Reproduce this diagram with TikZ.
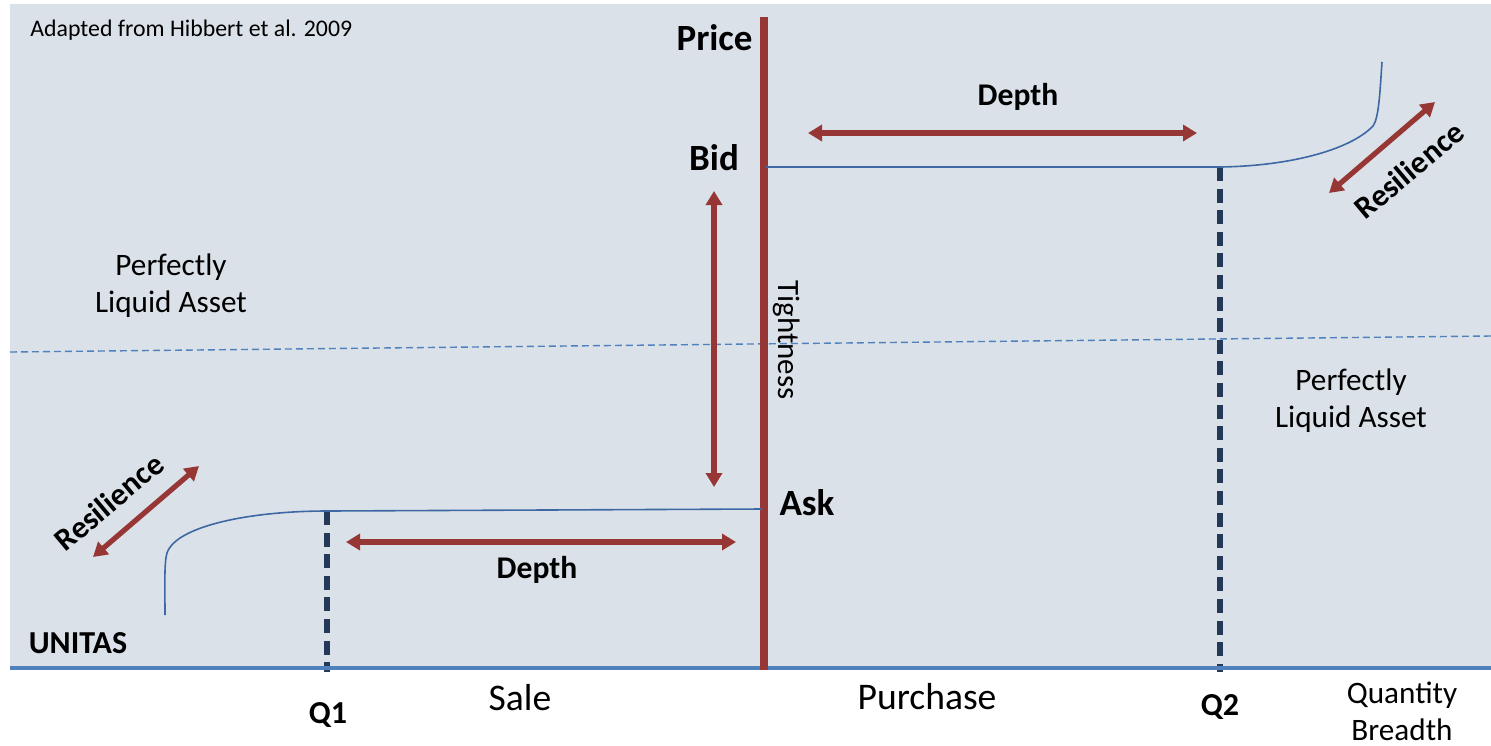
\documentclass[tikz,border=0pt]{standalone}
\usepackage{fontspec}
\setmainfont{Carlito}
\usetikzlibrary{arrows.meta}
\definecolor{panel}{RGB}{219,225,233}
\definecolor{axisred}{RGB}{150,55,53}
\definecolor{curveblue}{RGB}{62,104,164}
\definecolor{baseblue}{RGB}{79,129,189}
\definecolor{qnavy}{RGB}{36,56,88}
\tikzset{
  measure/.style={axisred, line width=2.6pt,
    {Triangle[width=8pt,length=7pt]}-{Triangle[width=8pt,length=7pt]}},
  curve/.style={curveblue, line width=0.8pt},
  qline/.style={qnavy, line width=2.6pt, dash pattern=on 7pt off 3.8pt},
  big/.style={font=\fontsize{18.5}{20}\selectfont\bfseries, inner sep=0pt},
  mid/.style={font=\fontsize{15.6}{18.5}\selectfont, inner sep=0pt, align=center},
  midb/.style={font=\fontsize{15.8}{18}\selectfont\bfseries, inner sep=0pt},
  small/.style={font=\fontsize{11.9}{14}\selectfont, inner sep=0pt},
  tightf/.style={font=\fontsize{15.5}{18}\selectfont, inner sep=0pt},
  smallb/.style={font=\fontsize{16}{18}\selectfont\bfseries, inner sep=0pt},
  axisf/.style={font=\fontsize{18.8}{22}\selectfont, inner sep=0pt},
}
\begin{document}
\begin{tikzpicture}[x=0.5pt, y=-0.5pt]
\useasboundingbox (0,0) rectangle (1491,745);
% backdrop panel
\fill[panel] (10,4) rectangle (1491,668);

% dashed reference level
\coordinate (refL) at (10,352);
\coordinate (refR) at (1491,336);
\draw[baseblue, line width=0.7pt, dash pattern=on 3.5pt off 2pt] (refL) -- (refR);

% quantity axis
\coordinate (baseL) at (10,668);
\coordinate (baseR) at (1491,668);

% Q1 / Q2 markers
\coordinate (q1top) at (327,511);
\coordinate (q1bot) at (327,672);
\coordinate (q2top) at (1220,167);
\coordinate (q2bot) at (1220,672);
\draw[qline] (q1top) -- (q1bot);
\draw[qline] (q2top) -- (q2bot);

\draw[baseblue, line width=2pt] (baseL) -- (baseR);

% price axis
\coordinate (axTop) at (764,17);
\coordinate (axBot) at (764,670);
\draw[axisred, line width=4pt] (axTop) -- (axBot);

% bid schedule
\coordinate (bidL) at (766,167);
\coordinate (bidEnd) at (1382,62);
\draw[curve] (bidL) -- (q2top)
  .. controls (1290,166) and (1350,150) .. (1373,126)
  .. controls (1379,118) and (1380,90) .. (bidEnd);

% ask schedule
\coordinate (askR) at (762,509);
\coordinate (askEnd) at (165,615);
\draw[curve] (askR) -- (q1top)
  .. controls (250,511) and (176,526) .. (167,553)
  .. controls (164,562) and (165,590) .. (askEnd);

% measures
\coordinate (dT1) at (808,133);
\coordinate (dT2) at (1197,133);
\draw[measure] (dT1) -- (dT2);
\coordinate (dB1) at (346,542);
\coordinate (dB2) at (736,542);
\draw[measure] (dB1) -- (dB2);
\coordinate (tT) at (714,191);
\coordinate (tB) at (714,487);
\draw[measure] (tT) -- (tB);
\coordinate (rR1) at (1329,193);
\coordinate (rR2) at (1435,102);
\draw[measure] (rR1) -- (rR2);
\coordinate (rL1) at (93,557);
\coordinate (rL2) at (199,466);
\draw[measure] (rL1) -- (rL2);

% labels
\node[small, anchor=west] (src) at (30,30) {Adapted from Hibbert et al. 2009};
\node[big, anchor=east] (price) at (753,38) {Price};
\node[big] (bid) at (714,158) {Bid};
\node[big] (ask) at (807,503) {Ask};
\node[midb] (depthT) at (1018,97) {Depth};
\node[midb] (depthB) at (537,570) {Depth};
\node[tightf, rotate=-90] (tight) at (787,340) {Tightness};
\node[midb, rotate=40] (resR) at (1409,170) {Resilience};
\node[midb, rotate=40] (resL) at (109,502) {Resilience};
\node[mid] (plaL) at (171,286) {Perfectly\\Liquid Asset};
\node[mid] (plaR) at (1351,401) {Perfectly\\Liquid Asset};
\node[smallb] (unitas) at (78,643) {UNITAS};
\node[smallb] (q1) at (328,715) {Q1};
\node[smallb] (q2) at (1220,707) {Q2};
\node[axisf] (sale) at (520,698) {Sale};
\node[axisf] (purchase) at (927,697) {Purchase};
\node[mid] (qty) at (1402,711) {Quantity\\Breadth};
\end{tikzpicture}
\end{document}
